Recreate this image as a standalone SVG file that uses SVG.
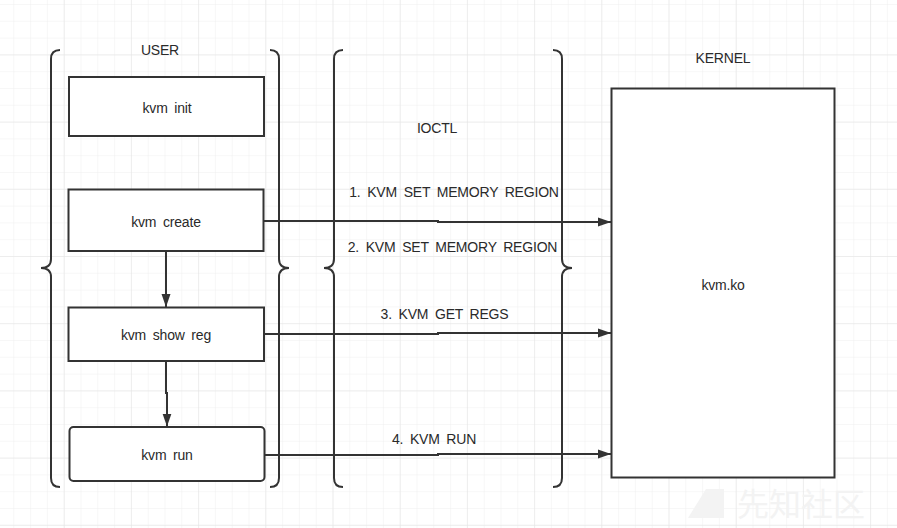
<svg xmlns="http://www.w3.org/2000/svg" width="897" height="528" viewBox="0 0 897 528">
  <defs>
    <pattern id="gridMinor" patternUnits="userSpaceOnUse" x="13.3" y="4" width="16.8" height="16.8">
      <path d="M0,0 V16.8 M0,0 H16.8" fill="none" stroke="#efefef" stroke-width="1"/>
    </pattern>
    <pattern id="gridMajor" patternUnits="userSpaceOnUse" x="63.7" y="54.4" width="67.2" height="67.2">
      <path d="M0,0 V67.2 M0,0 H67.2" fill="none" stroke="#e4e4e4" stroke-width="1"/>
    </pattern>
    <marker id="arrow" markerUnits="userSpaceOnUse" markerWidth="14" markerHeight="10" refX="13" refY="5" orient="auto">
      <path d="M0,0.5 L13,5 L0,9.5 Z" fill="#333333"/>
    </marker>
    <style>
      .box { fill: #ffffff; stroke: #333333; stroke-width: 2; }
      .brace { fill: none; stroke: #333333; stroke-width: 2; }
      .conn { fill: none; stroke: #333333; stroke-width: 2; marker-end: url(#arrow); }
      .lbl { font-family: "Liberation Sans", Arial, sans-serif; font-size: 14px; fill: #2a2a2a; text-anchor: middle; word-spacing: 3px; letter-spacing: -0.2px; }
      .wm { font-family: "Noto Sans CJK SC", "Noto Sans", sans-serif; font-size: 32px; fill: #f3f3f3; }
    </style>
  </defs>

  <rect x="0" y="0" width="897" height="528" fill="#ffffff"/>
  <rect x="0" y="0" width="897" height="528" fill="url(#gridMinor)"/>
  <rect x="0" y="0" width="897" height="528" fill="url(#gridMajor)"/>

  <!-- watermark -->
  <g id="watermark">
    <polygon points="706,489 724,489 724,518 688,518" fill="#f3f3f3"/>
    <text class="wm" x="737" y="516">先知社区</text>
  </g>

  <!-- braces -->
  <g id="user-brace">
    <path class="brace" d="M60,50 Q51,50 51,59 V259 Q51,268 41,268 Q51,268 51,277 V478 Q51,487 60,487"/>
    <path class="brace" d="M270,50 Q279,50 279,59 V259 Q279,268 289,268 Q279,268 279,277 V478 Q279,487 270,487"/>
    <text class="lbl" x="160" y="55">USER</text>
  </g>
  <g id="ioctl-brace">
    <path class="brace" d="M343,50 Q334,50 334,59 V259 Q334,268 324,268 Q334,268 334,277 V478 Q334,487 343,487"/>
    <path class="brace" d="M553,50 Q562,50 562,59 V259 Q562,268 572,268 Q562,268 562,277 V478 Q562,487 553,487"/>
    <text class="lbl" x="437" y="133">IOCTL</text>
  </g>

  <!-- nodes -->
  <g id="kvm-init">
    <rect class="box" x="69" y="77" width="195" height="59"/>
    <text class="lbl" x="167" y="112.5">kvm init</text>
  </g>
  <g id="kvm-create">
    <rect class="box" x="68.5" y="189.5" width="195" height="61.5"/>
    <text class="lbl" x="166" y="226.5">kvm create</text>
  </g>
  <g id="kvm-show-reg">
    <rect class="box" x="68.5" y="307.5" width="195.5" height="53.5"/>
    <text class="lbl" x="166" y="340">kvm show reg</text>
  </g>
  <g id="kvm-run">
    <rect class="box" x="69.5" y="427" width="195" height="54" rx="4"/>
    <text class="lbl" x="167" y="460">kvm run</text>
  </g>
  <g id="kernel">
    <text class="lbl" x="723" y="63">KERNEL</text>
    <rect class="box" x="611.5" y="88.5" width="223" height="389"/>
    <text class="lbl" x="723" y="290">kvm.ko</text>
  </g>

  <!-- connectors -->
  <g id="connectors">
    <path class="conn" d="M166,251 V307"/>
    <path class="conn" d="M166,361 V393 H167 V426.5"/>
    <path class="conn" d="M264,221 H438 V222 H611"/>
    <path class="conn" d="M264,334 H438 V333 H611"/>
    <path class="conn" d="M265,455 H438 V454 H611"/>
    <text class="lbl" x="454" y="196.5">1. KVM SET MEMORY REGION</text>
    <text class="lbl" x="452.5" y="252">2. KVM SET MEMORY REGION</text>
    <text class="lbl" x="444.5" y="319">3. KVM GET REGS</text>
    <text class="lbl" x="434" y="444">4. KVM RUN</text>
  </g>
</svg>
